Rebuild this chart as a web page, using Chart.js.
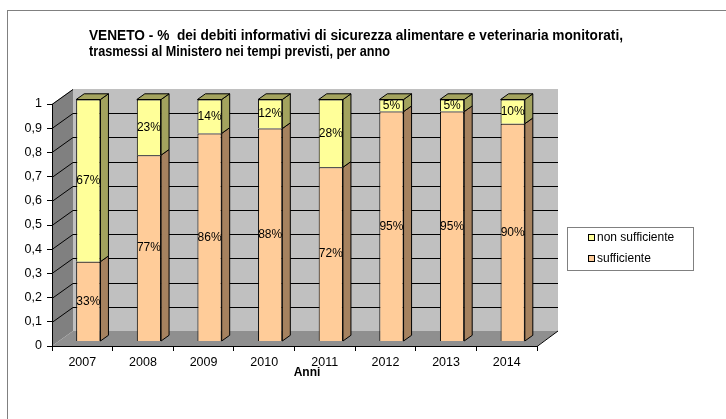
<!DOCTYPE html>
<html lang="it">
<head>
    <meta charset="UTF-8">
    <title>Veneto - debiti informativi</title>
    <style>
        html, body { margin: 0; padding: 0; background: #fff; }
        #wrap { width: 726px; height: 419px; position: relative; }
    </style>
</head>
<body>
    <div id="wrap"><canvas id="chart" width="726" height="419"></canvas></div>

    <script src="https://cdn.jsdelivr.net/npm/chart.js"></script>
    <script>
        // data
        const anni = ['2007', '2008', '2009', '2010', '2011', '2012', '2013', '2014'];
        const sufficiente = [0.33, 0.77, 0.86, 0.88, 0.72, 0.95, 0.95, 0.90];
        const nonSufficiente = [0.67, 0.23, 0.14, 0.12, 0.28, 0.05, 0.05, 0.10];
        const yTicks = [0, 0.1, 0.2, 0.3, 0.4, 0.5, 0.6, 0.7, 0.8, 0.9, 1];

        const titleLines = [
            'VENETO - %  dei debiti informativi di sicurezza alimentare e veterinaria monitorati,',
            'trasmessi al Ministero nei tempi previsti, per anno'
        ];
        const titleWidths = [534, 301];

        // 3d look
        const DEPTH_X = 21, DEPTH_Y = -15;      // back wall offset
        const BAR_X = 6, BAR_Y = -4.5;          // bar front offset
        const SIDE_X = 8, SIDE_Y = -5.7;        // bar depth
        const FONT = 'Arial, "Liberation Sans", sans-serif';

        const sideColors = ['#a6825f', '#a3a35e'];

        const pct = v => Math.round(v * 100) + '%';

        const threeD = {
            id: 'threeD',
            beforeDraw(chart) {
                const ctx = chart.ctx;
                const { left, right, top, bottom } = chart.chartArea;
                const y = chart.scales.y;

                ctx.save();
                // outer frame
                ctx.strokeStyle = '#808080';
                ctx.lineWidth = 1;
                ctx.strokeRect(7.5, 10.5, 760, 500);

                // title
                ctx.fillStyle = '#000';
                ctx.font = 'bold 14px ' + FONT;
                ctx.textBaseline = 'alphabetic';
                ctx.textAlign = 'left';
                titleLines.forEach((t, i) => {
                    const sx = titleWidths[i] / ctx.measureText(t).width;
                    ctx.save();
                    ctx.translate(89, 40 + i * 15.5);
                    ctx.scale(sx, 1);
                    ctx.fillText(t, 0, 0);
                    ctx.restore();
                });

                // back wall
                ctx.fillStyle = '#c0c0c0';
                ctx.fillRect(left + DEPTH_X, top + DEPTH_Y, right - left, bottom - top);
                // side wall
                ctx.fillStyle = '#808080';
                ctx.beginPath();
                ctx.moveTo(left, top);
                ctx.lineTo(left + DEPTH_X, top + DEPTH_Y);
                ctx.lineTo(left + DEPTH_X, bottom + DEPTH_Y);
                ctx.lineTo(left, bottom);
                ctx.closePath();
                ctx.fill();
                // floor
                ctx.fillStyle = '#8f8f8f';
                ctx.beginPath();
                ctx.moveTo(left, bottom);
                ctx.lineTo(right, bottom);
                ctx.lineTo(right + DEPTH_X, bottom + DEPTH_Y);
                ctx.lineTo(left + DEPTH_X, bottom + DEPTH_Y);
                ctx.closePath();
                ctx.fill();

                // grid lines on walls
                ctx.strokeStyle = '#000';
                ctx.lineWidth = 1;
                yTicks.forEach(v => {
                    if (v === 0) return;
                    const py = Math.round(y.getPixelForValue(v)) + 0.5;
                    ctx.beginPath();
                    ctx.moveTo(left, py);
                    ctx.lineTo(left + DEPTH_X, py + DEPTH_Y);
                    if (v < 1) ctx.lineTo(right + DEPTH_X, py + DEPTH_Y);
                    ctx.stroke();
                });
                // floor right edge
                ctx.beginPath();
                ctx.moveTo(right, bottom + 0.5);
                ctx.lineTo(right + DEPTH_X, bottom + DEPTH_Y);
                ctx.stroke();
                ctx.restore();
            },
            beforeDatasetsDraw(chart) {
                chart.ctx.save();
                chart.ctx.translate(BAR_X, BAR_Y);
            },
            afterDatasetsDraw(chart) {
                const ctx = chart.ctx;
                const n = chart.data.labels.length;
                ctx.lineWidth = 1;
                ctx.strokeStyle = '#000';
                for (let i = 0; i < n; i++) {
                    chart.data.datasets.forEach((ds, d) => {
                        const bar = chart.getDatasetMeta(d).data[i];
                        const x1 = bar.x + bar.width / 2;
                        const x0 = bar.x - bar.width / 2;
                        const yt = Math.min(bar.y, bar.base), yb = Math.max(bar.y, bar.base);
                        // side face
                        ctx.fillStyle = sideColors[d];
                        ctx.beginPath();
                        ctx.moveTo(x1, yb);
                        ctx.lineTo(x1 + SIDE_X, yb + SIDE_Y);
                        ctx.lineTo(x1 + SIDE_X, yt + SIDE_Y);
                        ctx.lineTo(x1, yt);
                        ctx.closePath();
                        ctx.fill();
                        ctx.stroke();
                        // top face on the upper segment
                        if (d === chart.data.datasets.length - 1) {
                            ctx.beginPath();
                            ctx.moveTo(x0, yt);
                            ctx.lineTo(x0 + SIDE_X, yt + SIDE_Y);
                            ctx.lineTo(x1 + SIDE_X, yt + SIDE_Y);
                            ctx.lineTo(x1, yt);
                            ctx.closePath();
                            ctx.fill();
                            ctx.stroke();
                        }
                    });
                }
                // value labels
                ctx.fillStyle = '#000';
                ctx.font = '12px ' + FONT;
                ctx.textAlign = 'center';
                ctx.textBaseline = 'middle';
                chart.data.datasets.forEach((ds, d) => {
                    chart.getDatasetMeta(d).data.forEach((bar, i) => {
                        ctx.fillText(pct(ds.data[i]), bar.x, (bar.y + bar.base) / 2);
                    });
                });
                ctx.restore();

                // axis title
                ctx.save();
                ctx.font = 'bold 12px ' + FONT;
                ctx.textAlign = 'center';
                ctx.textBaseline = 'middle';
                ctx.fillStyle = '#000';
                ctx.fillText('Anni', 307, 373);

                // legend
                ctx.fillStyle = '#fff';
                ctx.fillRect(567, 227, 126, 43);
                ctx.strokeStyle = '#808080';
                ctx.strokeRect(567.5, 227.5, 126, 43);
                const items = [chart.data.datasets[1], chart.data.datasets[0]];
                ctx.font = '12px ' + FONT;
                ctx.textAlign = 'left';
                items.forEach((ds, k) => {
                    const cy = 238 + k * 21;
                    ctx.fillStyle = ds.backgroundColor;
                    ctx.fillRect(588.5, cy - 3.5, 6, 6);
                    ctx.strokeStyle = '#000';
                    ctx.strokeRect(588.5, cy - 3.5, 6, 6);
                    ctx.fillStyle = '#000';
                    ctx.fillText(ds.label, 597, cy);
                });
                ctx.restore();
            }
        };

        new Chart(document.getElementById('chart'), {
            type: 'bar',
            data: {
                labels: anni,
                datasets: [
                    {
                        label: 'sufficiente',
                        data: sufficiente,
                        backgroundColor: '#ffcc99',
                        borderColor: '#000',
                        borderWidth: 1
                    },
                    {
                        label: 'non sufficiente',
                        data: nonSufficiente,
                        backgroundColor: '#ffff99',
                        borderColor: '#000',
                        borderWidth: 1
                    }
                ]
            },
            options: {
                responsive: false,
                animation: false,
                layout: { padding: { left: 0, right: 189, top: 104, bottom: 0 } },
                datasets: { bar: { categoryPercentage: 1, barPercentage: 0.4 } },
                plugins: {
                    legend: { display: false },
                    tooltip: { enabled: false },
                    title: { display: false }
                },
                scales: {
                    x: {
                        stacked: true,
                        grid: { drawOnChartArea: false, color: '#000', tickLength: 5 },
                        border: { color: '#000' },
                        ticks: { color: '#000', font: { family: FONT, size: 12.5 }, padding: 4, maxRotation: 0 },
                        afterFit(scale) { scale.height = 73; }
                    },
                    y: {
                        stacked: true,
                        min: 0,
                        max: 1,
                        afterBuildTicks(scale) { scale.ticks = yTicks.map(v => ({ value: v })); },
                        grid: { drawOnChartArea: false, color: '#000', tickLength: 5 },
                        border: { color: '#000' },
                        ticks: {
                            color: '#000',
                            font: { family: FONT, size: 12.5 },
                            padding: 5,
                            callback: v => (v === 0 || v === 1) ? String(v) : v.toFixed(1).replace('.', ',')
                        },
                        afterFit(scale) { scale.width = 52; }
                    }
                }
            },
            plugins: [threeD]
        });
    </script>
</body>
</html>
